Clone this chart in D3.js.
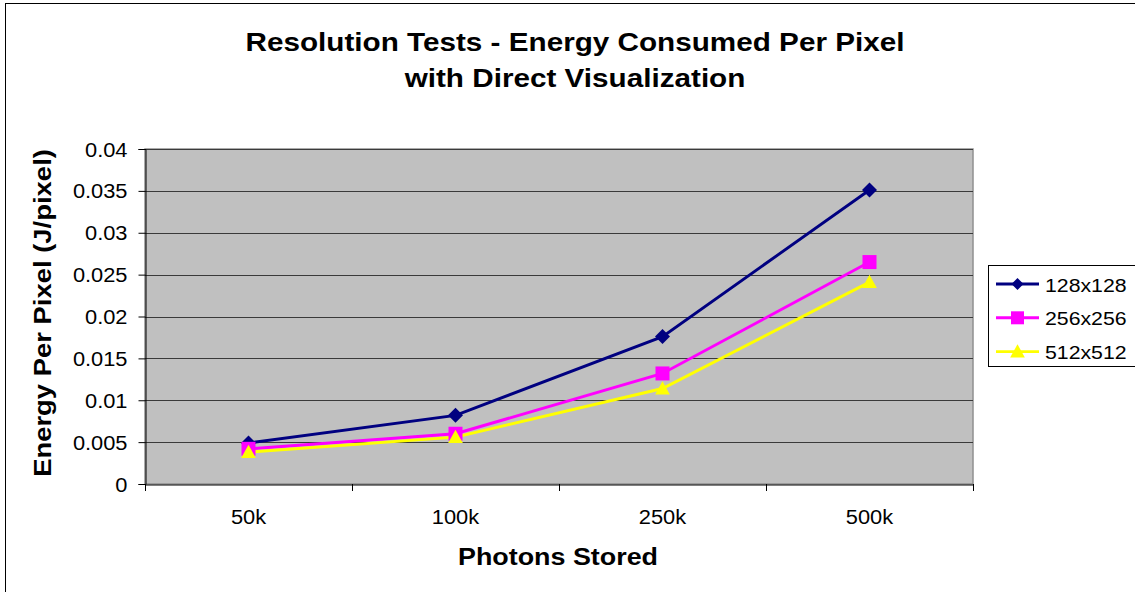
<!DOCTYPE html>
<html>
<head>
<meta charset="utf-8">
<script src="https://cdn.jsdelivr.net/npm/d3@7"></script>
<style>
  html, body { margin: 0; padding: 0; background: #fff; }
  svg { display: block; }
  text { font-family: "Liberation Sans", Arial, Helvetica, sans-serif; fill: #000; }
</style>
</head>
<body>
<svg id="chart" width="1135" height="592"></svg>
<script>
// ---- data ----
const categories = ["50k", "100k", "250k", "500k"];
const seriesNames = ["128x128", "256x256", "512x512"];
const values128 = [0.0049, 0.0082, 0.0176, 0.0351];
const values256 = [0.0042, 0.0060, 0.0132, 0.0265];
const values512 = [0.0038, 0.0056, 0.0114, 0.0241];
const yTicks = [0, 0.005, 0.01, 0.015, 0.02, 0.025, 0.03, 0.035, 0.04];
const yTickLabels = ["0", "0.005", "0.01", "0.015", "0.02", "0.025", "0.03", "0.035", "0.04"];
const titleLines = ["Resolution Tests - Energy Consumed Per Pixel", "with Direct Visualization"];
const xTitle = "Photons Stored";
const yTitle = "Energy Per Pixel (J/pixel)";

const series = [
  { name: seriesNames[0], values: values128, color: "#000080", marker: "diamond" },
  { name: seriesNames[1], values: values256, color: "#ff00ff", marker: "square" },
  { name: seriesNames[2], values: values512, color: "#ffff00", marker: "triangle" }
];

const SX = 1.12; // horizontal glyph stretch of the reference font
const svg = d3.select("#chart");

// outer chart border
svg.append("rect").attr("x", 5.5).attr("y", 3.5).attr("width", 1140).attr("height", 600)
  .attr("fill", "#fff").attr("stroke", "#000").attr("stroke-width", 1);

const plot = { left: 145, right: 973, top: 149, bottom: 484 };

const x = d3.scaleBand().domain(categories).range([plot.left, plot.right]).padding(0);
const y = d3.scaleLinear().domain([0, 0.04]).range([plot.bottom, plot.top]);

// plot area
svg.append("rect").attr("x", plot.left).attr("y", plot.top)
  .attr("width", plot.right - plot.left).attr("height", plot.bottom - plot.top)
  .attr("fill", "#c0c0c0").attr("stroke", "#909090").attr("stroke-width", 1.5);

// gridlines
svg.append("g").selectAll("line").data(yTicks.filter(d => d > 0)).join("line")
  .attr("x1", plot.left).attr("x2", plot.right)
  .attr("y1", d => Math.round(y(d)) + 0.5).attr("y2", d => Math.round(y(d)) + 0.5)
  .attr("stroke", "#3a3a3a").attr("stroke-width", 1);

function stretchedText(g, tx, ty, str, size, weight, anchor, rotate) {
  const t = g.append("text")
    .attr("transform", `translate(${tx},${ty})` + (rotate ? ` rotate(${rotate})` : "") + ` scale(${SX},1)`)
    .attr("font-size", size).attr("font-weight", weight).attr("text-anchor", anchor)
    .text(str);
  return t;
}

// y axis
const yAxis = d3.axisLeft(y).tickValues(yTicks).tickSize(7).tickFormat((d, i) => yTickLabels[i]);
const yg = svg.append("g").attr("transform", `translate(${plot.left + 0.5},0)`).call(yAxis);
yg.select(".domain").attr("stroke", "#000");
yg.selectAll(".tick line").attr("stroke", "#000");
yg.selectAll(".tick text").remove();
yg.selectAll(".tick").each(function(d, i) {
  stretchedText(d3.select(this), -18, 7, yTickLabels[i], 19.5, "normal", "end");
});

// x axis
const xAxis = d3.axisBottom(x).tickSize(0);
const xg = svg.append("g").attr("transform", `translate(0,${plot.bottom + 0.5})`).call(xAxis);
xg.select(".domain").attr("stroke", "#000");
xg.selectAll(".tick text").remove();
xg.selectAll(".tick").each(function(d) {
  stretchedText(d3.select(this), 0, 39, d, 19.5, "normal", "middle");
});
// category boundary ticks
const bounds = categories.map(c => x(c)).concat([x.range()[1]]);
svg.append("g").selectAll("line").data(bounds).join("line")
  .attr("x1", d => Math.round(d) + 0.5).attr("x2", d => Math.round(d) + 0.5)
  .attr("y1", plot.bottom).attr("y2", plot.bottom + 7)
  .attr("stroke", "#000");

// lines
const line = d3.line().x((d, i) => x(categories[i]) + x.bandwidth() / 2).y(d => y(d));
const sg = svg.append("g");
series.forEach(s => {
  sg.append("path").datum(s.values).attr("d", line)
    .attr("fill", "none").attr("stroke", s.color).attr("stroke-width", 2.9);
});

function markerPath(type, r) {
  if (type === "diamond") return `M0,${-r}L${r},0L0,${r}L${-r},0Z`;
  if (type === "square") return `M${-r},${-r}H${r}V${r}H${-r}Z`;
  return `M0,${-r * 1.05}L${r * 1.05},${r * 0.85}L${-r * 1.05},${r * 0.85}Z`;
}
const markerR = { diamond: 7.5, square: 7, triangle: 7 };
series.forEach(s => {
  sg.append("g").selectAll("path").data(s.values).join("path")
    .attr("transform", (d, i) => `translate(${x(categories[i]) + x.bandwidth() / 2},${y(d)})`)
    .attr("d", markerPath(s.marker, markerR[s.marker]))
    .attr("fill", s.color);
});

// title
titleLines.forEach((t, i) => {
  stretchedText(svg, 575, 51 + i * 36, t, 26.5, "bold", "middle");
});

// axis titles
stretchedText(svg, 558, 565, xTitle, 24, "bold", "middle");
stretchedText(svg, 51, 313, yTitle, 24.5, "bold", "middle", -90);

// legend
const lg = svg.append("g");
lg.append("rect").attr("x", 988.5).attr("y", 265.5).attr("width", 160).attr("height", 101)
  .attr("fill", "#fff").attr("stroke", "#000").attr("stroke-width", 1);
const legR = { diamond: 6, square: 6.5, triangle: 7 };
series.forEach((s, i) => {
  const cy = 284 + i * 33.8;
  lg.append("line").attr("x1", 996).attr("x2", 1039).attr("y1", cy).attr("y2", cy)
    .attr("stroke", s.color).attr("stroke-width", 2.9);
  lg.append("path").attr("transform", `translate(1017.5,${cy})`)
    .attr("d", markerPath(s.marker, legR[s.marker])).attr("fill", s.color);
  stretchedText(lg, 1045, cy + 7.5, s.name, 19, "normal", "start");
});
</script>
</body>
</html>
